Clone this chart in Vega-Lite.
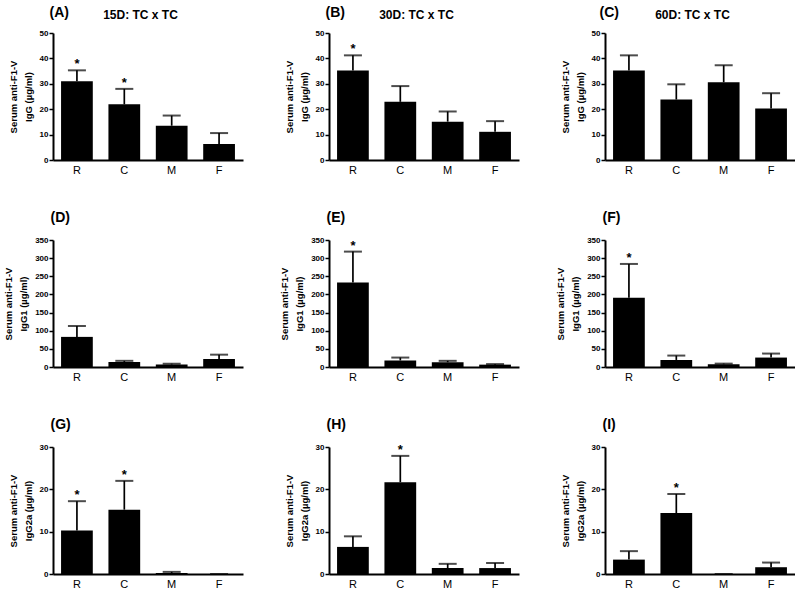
{
  "$schema": "https://vega.github.io/schema/vega-lite/v6.json",
  "background": "white",
  "padding": {"left": 3, "top": 5, "right": 0, "bottom": 0},
  "data": {"values": [
    {"panel": "A", "group": "R", "mean": 31.0, "upper": 35.3, "star": 1},
    {"panel": "A", "group": "C", "mean": 21.9, "upper": 28.0, "star": 1},
    {"panel": "A", "group": "M", "mean": 13.5, "upper": 17.5, "star": 0},
    {"panel": "A", "group": "F", "mean": 6.3, "upper": 10.6, "star": 0},
    {"panel": "B", "group": "R", "mean": 35.2, "upper": 41.2, "star": 1},
    {"panel": "B", "group": "C", "mean": 22.9, "upper": 29.1, "star": 0},
    {"panel": "B", "group": "M", "mean": 15.1, "upper": 19.1, "star": 0},
    {"panel": "B", "group": "F", "mean": 11.1, "upper": 15.3, "star": 0},
    {"panel": "C", "group": "R", "mean": 35.2, "upper": 41.2, "star": 0},
    {"panel": "C", "group": "C", "mean": 23.8, "upper": 29.8, "star": 0},
    {"panel": "C", "group": "M", "mean": 30.6, "upper": 37.3, "star": 0},
    {"panel": "C", "group": "F", "mean": 20.3, "upper": 26.3, "star": 0},
    {"panel": "D", "group": "R", "mean": 83, "upper": 113, "star": 0},
    {"panel": "D", "group": "C", "mean": 14, "upper": 17, "star": 0},
    {"panel": "D", "group": "M", "mean": 7, "upper": 9, "star": 0},
    {"panel": "D", "group": "F", "mean": 22, "upper": 34, "star": 0},
    {"panel": "E", "group": "R", "mean": 233, "upper": 318, "star": 1},
    {"panel": "E", "group": "C", "mean": 18, "upper": 26, "star": 0},
    {"panel": "E", "group": "M", "mean": 13, "upper": 17, "star": 0},
    {"panel": "E", "group": "F", "mean": 6.5, "upper": 8, "star": 0},
    {"panel": "F", "group": "R", "mean": 191, "upper": 284, "star": 1},
    {"panel": "F", "group": "C", "mean": 19.4, "upper": 31.5, "star": 0},
    {"panel": "F", "group": "M", "mean": 7.4, "upper": 9.3, "star": 0},
    {"panel": "F", "group": "F", "mean": 26, "upper": 37, "star": 0},
    {"panel": "G", "group": "R", "mean": 10.3, "upper": 17.2, "star": 1},
    {"panel": "G", "group": "C", "mean": 15.2, "upper": 22.0, "star": 1},
    {"panel": "G", "group": "M", "mean": 0.25, "upper": 0.5, "star": 0},
    {"panel": "G", "group": "F", "mean": 0, "upper": 0, "star": 0},
    {"panel": "H", "group": "R", "mean": 6.4, "upper": 8.9, "star": 0},
    {"panel": "H", "group": "C", "mean": 21.7, "upper": 27.9, "star": 1},
    {"panel": "H", "group": "M", "mean": 1.4, "upper": 2.4, "star": 0},
    {"panel": "H", "group": "F", "mean": 1.4, "upper": 2.6, "star": 0},
    {"panel": "I", "group": "R", "mean": 3.4, "upper": 5.4, "star": 0},
    {"panel": "I", "group": "C", "mean": 14.4, "upper": 18.9, "star": 1},
    {"panel": "I", "group": "M", "mean": 0, "upper": 0, "star": 0},
    {"panel": "I", "group": "F", "mean": 1.6, "upper": 2.7, "star": 0}
  ]},
  "columns": 3,
  "spacing": {"row": 35, "column": 36},
  "concat": [
    {"width": 190, "height": 127, "transform": [{"filter": "datum.panel === 'A'"}], "resolve": {"axis": {"x": "independent"}},
     "layer": [
      {"mark": {"type": "bar", "color": "black"}, "encoding": {"x": {"field": "group", "type": "nominal", "sort": null, "scale": {"domain": ["R", "C", "M", "F"], "paddingInner": 0.33, "paddingOuter": 0.17}, "axis": {"orient": "bottom", "title": null}}, "y": {"field": "mean", "type": "quantitative", "scale": {"domain": [0, 50]}, "axis": {"values": [0, 10, 20, 30, 40, 50], "title": ["Serum  anti-F1-V", "IgG  (µg/ml)"]}}}},
      {"mark": {"type": "rule", "color": "black", "strokeWidth": 1.7}, "encoding": {"x": {"field": "group", "type": "nominal", "axis": {"orient": "top", "title": "15D: TC x TC", "titleFontSize": 12, "titleX": 87, "titleAlign": "center", "titlePadding": 15, "titleBaseline": "alphabetic"}}, "y": {"field": "mean", "type": "quantitative", "axis": {"values": [0, 10, 20, 30, 40, 50], "title": ["Serum  anti-F1-V", "IgG  (µg/ml)"]}}, "y2": {"field": "upper"}}},
      {"mark": {"type": "tick", "color": "black", "thickness": 2, "size": 18}, "encoding": {"x": {"field": "group", "type": "nominal", "axis": {"orient": "top", "title": "(A)", "titleFontSize": 14, "titleX": -4, "titleAlign": "left", "titlePadding": 17, "titleBaseline": "alphabetic"}}, "y": {"field": "upper", "type": "quantitative", "axis": {"values": [0, 10, 20, 30, 40, 50], "title": ["Serum  anti-F1-V", "IgG  (µg/ml)"]}}}},
      {"transform": [{"filter": "datum.star === 1"}], "mark": {"type": "text", "text": "*", "fontSize": 13, "fontWeight": "bold", "baseline": "alphabetic", "dy": -2, "color": "black"}, "encoding": {"x": {"field": "group", "type": "nominal", "axis": null}, "y": {"field": "upper", "type": "quantitative", "axis": {"values": [0, 10, 20, 30, 40, 50], "title": ["Serum  anti-F1-V", "IgG  (µg/ml)"]}}}}
     ]},
    {"width": 190, "height": 127, "transform": [{"filter": "datum.panel === 'B'"}], "resolve": {"axis": {"x": "independent"}},
     "layer": [
      {"mark": {"type": "bar", "color": "black"}, "encoding": {"x": {"field": "group", "type": "nominal", "sort": null, "scale": {"domain": ["R", "C", "M", "F"], "paddingInner": 0.33, "paddingOuter": 0.17}, "axis": {"orient": "bottom", "title": null}}, "y": {"field": "mean", "type": "quantitative", "scale": {"domain": [0, 50]}, "axis": {"values": [0, 10, 20, 30, 40, 50], "title": ["Serum  anti-F1-V", "IgG  (µg/ml)"]}}}},
      {"mark": {"type": "rule", "color": "black", "strokeWidth": 1.7}, "encoding": {"x": {"field": "group", "type": "nominal", "axis": {"orient": "top", "title": "30D: TC x TC", "titleFontSize": 12, "titleX": 87, "titleAlign": "center", "titlePadding": 15, "titleBaseline": "alphabetic"}}, "y": {"field": "mean", "type": "quantitative", "axis": {"values": [0, 10, 20, 30, 40, 50], "title": ["Serum  anti-F1-V", "IgG  (µg/ml)"]}}, "y2": {"field": "upper"}}},
      {"mark": {"type": "tick", "color": "black", "thickness": 2, "size": 18}, "encoding": {"x": {"field": "group", "type": "nominal", "axis": {"orient": "top", "title": "(B)", "titleFontSize": 14, "titleX": -4, "titleAlign": "left", "titlePadding": 17, "titleBaseline": "alphabetic"}}, "y": {"field": "upper", "type": "quantitative", "axis": {"values": [0, 10, 20, 30, 40, 50], "title": ["Serum  anti-F1-V", "IgG  (µg/ml)"]}}}},
      {"transform": [{"filter": "datum.star === 1"}], "mark": {"type": "text", "text": "*", "fontSize": 13, "fontWeight": "bold", "baseline": "alphabetic", "dy": -2, "color": "black"}, "encoding": {"x": {"field": "group", "type": "nominal", "axis": null}, "y": {"field": "upper", "type": "quantitative", "axis": {"values": [0, 10, 20, 30, 40, 50], "title": ["Serum  anti-F1-V", "IgG  (µg/ml)"]}}}}
     ]},
    {"width": 190, "height": 127, "transform": [{"filter": "datum.panel === 'C'"}], "resolve": {"axis": {"x": "independent"}},
     "layer": [
      {"mark": {"type": "bar", "color": "black"}, "encoding": {"x": {"field": "group", "type": "nominal", "sort": null, "scale": {"domain": ["R", "C", "M", "F"], "paddingInner": 0.33, "paddingOuter": 0.17}, "axis": {"orient": "bottom", "title": null}}, "y": {"field": "mean", "type": "quantitative", "scale": {"domain": [0, 50]}, "axis": {"values": [0, 10, 20, 30, 40, 50], "title": ["Serum  anti-F1-V", "IgG  (µg/ml)"]}}}},
      {"mark": {"type": "rule", "color": "black", "strokeWidth": 1.7}, "encoding": {"x": {"field": "group", "type": "nominal", "axis": {"orient": "top", "title": "60D: TC x TC", "titleFontSize": 12, "titleX": 87, "titleAlign": "center", "titlePadding": 15, "titleBaseline": "alphabetic"}}, "y": {"field": "mean", "type": "quantitative", "axis": {"values": [0, 10, 20, 30, 40, 50], "title": ["Serum  anti-F1-V", "IgG  (µg/ml)"]}}, "y2": {"field": "upper"}}},
      {"mark": {"type": "tick", "color": "black", "thickness": 2, "size": 18}, "encoding": {"x": {"field": "group", "type": "nominal", "axis": {"orient": "top", "title": "(C)", "titleFontSize": 14, "titleX": -6, "titleAlign": "left", "titlePadding": 17, "titleBaseline": "alphabetic"}}, "y": {"field": "upper", "type": "quantitative", "axis": {"values": [0, 10, 20, 30, 40, 50], "title": ["Serum  anti-F1-V", "IgG  (µg/ml)"]}}}},
      {"transform": [{"filter": "datum.star === 1"}], "mark": {"type": "text", "text": "*", "fontSize": 13, "fontWeight": "bold", "baseline": "alphabetic", "dy": -2, "color": "black"}, "encoding": {"x": {"field": "group", "type": "nominal", "axis": null}, "y": {"field": "upper", "type": "quantitative", "axis": {"values": [0, 10, 20, 30, 40, 50], "title": ["Serum  anti-F1-V", "IgG  (µg/ml)"]}}}}
     ]},
    {"width": 190, "height": 127, "transform": [{"filter": "datum.panel === 'D'"}], "resolve": {"axis": {"x": "independent"}},
     "layer": [
      {"mark": {"type": "bar", "color": "black"}, "encoding": {"x": {"field": "group", "type": "nominal", "sort": null, "scale": {"domain": ["R", "C", "M", "F"], "paddingInner": 0.33, "paddingOuter": 0.17}, "axis": {"orient": "bottom", "title": null}}, "y": {"field": "mean", "type": "quantitative", "scale": {"domain": [0, 350]}, "axis": {"values": [0, 50, 100, 150, 200, 250, 300, 350], "title": ["Serum  anti-F1-V", "IgG1  (µg/ml)"]}}}},
      {"mark": {"type": "rule", "color": "black", "strokeWidth": 1.7}, "encoding": {"x": {"field": "group", "type": "nominal", "axis": null}, "y": {"field": "mean", "type": "quantitative", "axis": {"values": [0, 50, 100, 150, 200, 250, 300, 350], "title": ["Serum  anti-F1-V", "IgG1  (µg/ml)"]}}, "y2": {"field": "upper"}}},
      {"mark": {"type": "tick", "color": "black", "thickness": 2, "size": 18}, "encoding": {"x": {"field": "group", "type": "nominal", "axis": {"orient": "top", "title": "(D)", "titleFontSize": 14, "titleX": -3, "titleAlign": "left", "titlePadding": 19, "titleBaseline": "alphabetic"}}, "y": {"field": "upper", "type": "quantitative", "axis": {"values": [0, 50, 100, 150, 200, 250, 300, 350], "title": ["Serum  anti-F1-V", "IgG1  (µg/ml)"]}}}},
      {"transform": [{"filter": "datum.star === 1"}], "mark": {"type": "text", "text": "*", "fontSize": 13, "fontWeight": "bold", "baseline": "alphabetic", "dy": -2, "color": "black"}, "encoding": {"x": {"field": "group", "type": "nominal", "axis": null}, "y": {"field": "upper", "type": "quantitative", "axis": {"values": [0, 50, 100, 150, 200, 250, 300, 350], "title": ["Serum  anti-F1-V", "IgG1  (µg/ml)"]}}}}
     ]},
    {"width": 190, "height": 127, "transform": [{"filter": "datum.panel === 'E'"}], "resolve": {"axis": {"x": "independent"}},
     "layer": [
      {"mark": {"type": "bar", "color": "black"}, "encoding": {"x": {"field": "group", "type": "nominal", "sort": null, "scale": {"domain": ["R", "C", "M", "F"], "paddingInner": 0.33, "paddingOuter": 0.17}, "axis": {"orient": "bottom", "title": null}}, "y": {"field": "mean", "type": "quantitative", "scale": {"domain": [0, 350]}, "axis": {"values": [0, 50, 100, 150, 200, 250, 300, 350], "title": ["Serum  anti-F1-V", "IgG1  (µg/ml)"]}}}},
      {"mark": {"type": "rule", "color": "black", "strokeWidth": 1.7}, "encoding": {"x": {"field": "group", "type": "nominal", "axis": null}, "y": {"field": "mean", "type": "quantitative", "axis": {"values": [0, 50, 100, 150, 200, 250, 300, 350], "title": ["Serum  anti-F1-V", "IgG1  (µg/ml)"]}}, "y2": {"field": "upper"}}},
      {"mark": {"type": "tick", "color": "black", "thickness": 2, "size": 18}, "encoding": {"x": {"field": "group", "type": "nominal", "axis": {"orient": "top", "title": "(E)", "titleFontSize": 14, "titleX": -3, "titleAlign": "left", "titlePadding": 19, "titleBaseline": "alphabetic"}}, "y": {"field": "upper", "type": "quantitative", "axis": {"values": [0, 50, 100, 150, 200, 250, 300, 350], "title": ["Serum  anti-F1-V", "IgG1  (µg/ml)"]}}}},
      {"transform": [{"filter": "datum.star === 1"}], "mark": {"type": "text", "text": "*", "fontSize": 13, "fontWeight": "bold", "baseline": "alphabetic", "dy": -2, "color": "black"}, "encoding": {"x": {"field": "group", "type": "nominal", "axis": null}, "y": {"field": "upper", "type": "quantitative", "axis": {"values": [0, 50, 100, 150, 200, 250, 300, 350], "title": ["Serum  anti-F1-V", "IgG1  (µg/ml)"]}}}}
     ]},
    {"width": 190, "height": 127, "transform": [{"filter": "datum.panel === 'F'"}], "resolve": {"axis": {"x": "independent"}},
     "layer": [
      {"mark": {"type": "bar", "color": "black"}, "encoding": {"x": {"field": "group", "type": "nominal", "sort": null, "scale": {"domain": ["R", "C", "M", "F"], "paddingInner": 0.33, "paddingOuter": 0.17}, "axis": {"orient": "bottom", "title": null}}, "y": {"field": "mean", "type": "quantitative", "scale": {"domain": [0, 350]}, "axis": {"values": [0, 50, 100, 150, 200, 250, 300, 350], "title": ["Serum  anti-F1-V", "IgG1  (µg/ml)"]}}}},
      {"mark": {"type": "rule", "color": "black", "strokeWidth": 1.7}, "encoding": {"x": {"field": "group", "type": "nominal", "axis": null}, "y": {"field": "mean", "type": "quantitative", "axis": {"values": [0, 50, 100, 150, 200, 250, 300, 350], "title": ["Serum  anti-F1-V", "IgG1  (µg/ml)"]}}, "y2": {"field": "upper"}}},
      {"mark": {"type": "tick", "color": "black", "thickness": 2, "size": 18}, "encoding": {"x": {"field": "group", "type": "nominal", "axis": {"orient": "top", "title": "(F)", "titleFontSize": 14, "titleX": -3, "titleAlign": "left", "titlePadding": 19, "titleBaseline": "alphabetic"}}, "y": {"field": "upper", "type": "quantitative", "axis": {"values": [0, 50, 100, 150, 200, 250, 300, 350], "title": ["Serum  anti-F1-V", "IgG1  (µg/ml)"]}}}},
      {"transform": [{"filter": "datum.star === 1"}], "mark": {"type": "text", "text": "*", "fontSize": 13, "fontWeight": "bold", "baseline": "alphabetic", "dy": -2, "color": "black"}, "encoding": {"x": {"field": "group", "type": "nominal", "axis": null}, "y": {"field": "upper", "type": "quantitative", "axis": {"values": [0, 50, 100, 150, 200, 250, 300, 350], "title": ["Serum  anti-F1-V", "IgG1  (µg/ml)"]}}}}
     ]},
    {"width": 190, "height": 127, "transform": [{"filter": "datum.panel === 'G'"}], "resolve": {"axis": {"x": "independent"}},
     "layer": [
      {"mark": {"type": "bar", "color": "black"}, "encoding": {"x": {"field": "group", "type": "nominal", "sort": null, "scale": {"domain": ["R", "C", "M", "F"], "paddingInner": 0.33, "paddingOuter": 0.17}, "axis": {"orient": "bottom", "title": null}}, "y": {"field": "mean", "type": "quantitative", "scale": {"domain": [0, 30]}, "axis": {"values": [0, 10, 20, 30], "title": ["Serum  anti-F1-V", "IgG2a  (µg/ml)"]}}}},
      {"mark": {"type": "rule", "color": "black", "strokeWidth": 1.7}, "encoding": {"x": {"field": "group", "type": "nominal", "axis": null}, "y": {"field": "mean", "type": "quantitative", "axis": {"values": [0, 10, 20, 30], "title": ["Serum  anti-F1-V", "IgG2a  (µg/ml)"]}}, "y2": {"field": "upper"}}},
      {"mark": {"type": "tick", "color": "black", "thickness": 2, "size": 18}, "encoding": {"x": {"field": "group", "type": "nominal", "axis": {"orient": "top", "title": "(G)", "titleFontSize": 14, "titleX": -3, "titleAlign": "left", "titlePadding": 19, "titleBaseline": "alphabetic"}}, "y": {"field": "upper", "type": "quantitative", "axis": {"values": [0, 10, 20, 30], "title": ["Serum  anti-F1-V", "IgG2a  (µg/ml)"]}}}},
      {"transform": [{"filter": "datum.star === 1"}], "mark": {"type": "text", "text": "*", "fontSize": 13, "fontWeight": "bold", "baseline": "alphabetic", "dy": -2, "color": "black"}, "encoding": {"x": {"field": "group", "type": "nominal", "axis": null}, "y": {"field": "upper", "type": "quantitative", "axis": {"values": [0, 10, 20, 30], "title": ["Serum  anti-F1-V", "IgG2a  (µg/ml)"]}}}}
     ]},
    {"width": 190, "height": 127, "transform": [{"filter": "datum.panel === 'H'"}], "resolve": {"axis": {"x": "independent"}},
     "layer": [
      {"mark": {"type": "bar", "color": "black"}, "encoding": {"x": {"field": "group", "type": "nominal", "sort": null, "scale": {"domain": ["R", "C", "M", "F"], "paddingInner": 0.33, "paddingOuter": 0.17}, "axis": {"orient": "bottom", "title": null}}, "y": {"field": "mean", "type": "quantitative", "scale": {"domain": [0, 30]}, "axis": {"values": [0, 10, 20, 30], "title": ["Serum  anti-F1-V", "IgG2a  (µg/ml)"]}}}},
      {"mark": {"type": "rule", "color": "black", "strokeWidth": 1.7}, "encoding": {"x": {"field": "group", "type": "nominal", "axis": null}, "y": {"field": "mean", "type": "quantitative", "axis": {"values": [0, 10, 20, 30], "title": ["Serum  anti-F1-V", "IgG2a  (µg/ml)"]}}, "y2": {"field": "upper"}}},
      {"mark": {"type": "tick", "color": "black", "thickness": 2, "size": 18}, "encoding": {"x": {"field": "group", "type": "nominal", "axis": {"orient": "top", "title": "(H)", "titleFontSize": 14, "titleX": -3, "titleAlign": "left", "titlePadding": 19, "titleBaseline": "alphabetic"}}, "y": {"field": "upper", "type": "quantitative", "axis": {"values": [0, 10, 20, 30], "title": ["Serum  anti-F1-V", "IgG2a  (µg/ml)"]}}}},
      {"transform": [{"filter": "datum.star === 1"}], "mark": {"type": "text", "text": "*", "fontSize": 13, "fontWeight": "bold", "baseline": "alphabetic", "dy": -2, "color": "black"}, "encoding": {"x": {"field": "group", "type": "nominal", "axis": null}, "y": {"field": "upper", "type": "quantitative", "axis": {"values": [0, 10, 20, 30], "title": ["Serum  anti-F1-V", "IgG2a  (µg/ml)"]}}}}
     ]},
    {"width": 190, "height": 127, "transform": [{"filter": "datum.panel === 'I'"}], "resolve": {"axis": {"x": "independent"}},
     "layer": [
      {"mark": {"type": "bar", "color": "black"}, "encoding": {"x": {"field": "group", "type": "nominal", "sort": null, "scale": {"domain": ["R", "C", "M", "F"], "paddingInner": 0.33, "paddingOuter": 0.17}, "axis": {"orient": "bottom", "title": null}}, "y": {"field": "mean", "type": "quantitative", "scale": {"domain": [0, 30]}, "axis": {"values": [0, 10, 20, 30], "title": ["Serum  anti-F1-V", "IgG2a  (µg/ml)"]}}}},
      {"mark": {"type": "rule", "color": "black", "strokeWidth": 1.7}, "encoding": {"x": {"field": "group", "type": "nominal", "axis": null}, "y": {"field": "mean", "type": "quantitative", "axis": {"values": [0, 10, 20, 30], "title": ["Serum  anti-F1-V", "IgG2a  (µg/ml)"]}}, "y2": {"field": "upper"}}},
      {"mark": {"type": "tick", "color": "black", "thickness": 2, "size": 18}, "encoding": {"x": {"field": "group", "type": "nominal", "axis": {"orient": "top", "title": "(I)", "titleFontSize": 14, "titleX": -3, "titleAlign": "left", "titlePadding": 19, "titleBaseline": "alphabetic"}}, "y": {"field": "upper", "type": "quantitative", "axis": {"values": [0, 10, 20, 30], "title": ["Serum  anti-F1-V", "IgG2a  (µg/ml)"]}}}},
      {"transform": [{"filter": "datum.star === 1"}], "mark": {"type": "text", "text": "*", "fontSize": 13, "fontWeight": "bold", "baseline": "alphabetic", "dy": -2, "color": "black"}, "encoding": {"x": {"field": "group", "type": "nominal", "axis": null}, "y": {"field": "upper", "type": "quantitative", "axis": {"values": [0, 10, 20, 30], "title": ["Serum  anti-F1-V", "IgG2a  (µg/ml)"]}}}}
     ]}
  ],
  "config": {
    "view": {"stroke": null},
    "font": "Liberation Sans",
    "axis": {"grid": false, "domainColor": "#000", "domainWidth": 2, "tickColor": "#000", "labelColor": "#000", "titleColor": "#000"},
    "axisY": {"tickSize": 4, "tickWidth": 1.5, "labelPadding": 1, "labelFontSize": 8, "labelFontWeight": "bold", "titleFontSize": 9.5, "titleFontWeight": "bold", "titleLineHeight": 15, "titlePadding": 6},
    "axisBottom": {"ticks": false, "labelPadding": 4, "labelFontSize": 11, "labelAngle": 0},
    "axisTop": {"domain": false, "ticks": false, "labels": false, "titleFontWeight": "bold"}
  }
}
